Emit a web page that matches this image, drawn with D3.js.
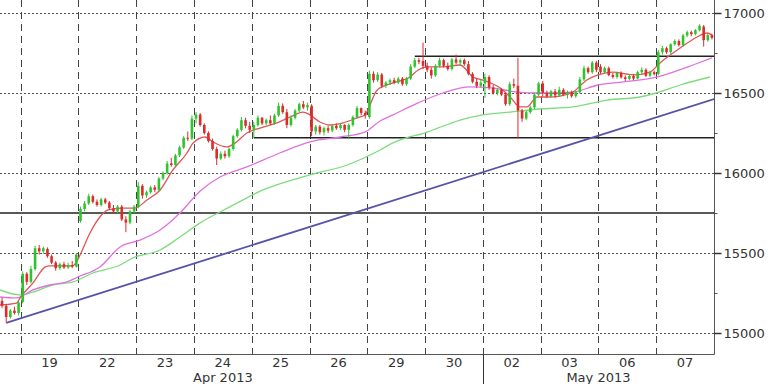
<!DOCTYPE html>
<html>
<head>
<meta charset="utf-8">
<script src="https://cdn.jsdelivr.net/npm/d3@7"></script>
<style>
  body { margin: 0; background: #fff; }
  svg { display: block; }
  text { font-family: "DejaVu Sans", Verdana, sans-serif; fill: #333; }
</style>
</head>
<body>
<svg id="chart"></svg>
<script>
// trading days shown on the x axis (first one only partly visible)
const days = ['18', '19', '22', '23', '24', '25', '26', '29', '30', '02', '03', '06', '07'];
const months = [
  { label: 'Apr 2013', firstDay: 0, lastDay: 8 },
  { label: 'May 2013', firstDay: 9, lastDay: 12 }
];
const priceTicks = [15000, 15500, 16000, 16500, 17000];
const minorTicks = [15250, 15750, 16250, 16750];

// hourly candles [open, high, low, close]
const candles = [
  // 18 (last 5 bars)
  [15200, 15220, 15155, 15170], [15170, 15180, 15065, 15100], [15100, 15150, 15090, 15140],
  [15140, 15165, 15115, 15125], [15125, 15200, 15110, 15190],
  // 19
  [15195, 15385, 15185, 15370], [15370, 15380, 15300, 15320], [15320, 15420, 15310, 15400],
  [15400, 15545, 15390, 15530], [15530, 15550, 15490, 15510], [15510, 15540, 15495, 15530],
  [15525, 15535, 15470, 15480], [15480, 15490, 15430, 15440], [15440, 15450, 15390, 15405],
  [15405, 15440, 15395, 15430], [15430, 15445, 15400, 15410], [15410, 15440, 15400, 15425],
  [15425, 15450, 15405, 15415], [15415, 15500, 15410, 15490],
  // 22
  [15700, 15790, 15690, 15775], [15775, 15825, 15760, 15810], [15810, 15870, 15800, 15855],
  [15855, 15865, 15810, 15820], [15820, 15835, 15790, 15800], [15800, 15845, 15790, 15835],
  [15835, 15845, 15805, 15815], [15815, 15825, 15770, 15780], [15780, 15800, 15750, 15760],
  [15760, 15800, 15745, 15790], [15790, 15800, 15700, 15710], [15710, 15730, 15630, 15690],
  [15690, 15770, 15680, 15760], [15760, 15800, 15750, 15790],
  // 23
  [15790, 15945, 15780, 15920], [15920, 15930, 15840, 15860], [15860, 15890, 15845, 15880],
  [15880, 15920, 15870, 15910], [15910, 15925, 15880, 15895], [15895, 15975, 15885, 15965],
  [15965, 16010, 15955, 16000], [16000, 16075, 15990, 16060], [16060, 16095, 16040, 16050],
  [16050, 16120, 16040, 16110], [16110, 16170, 16100, 16160], [16160, 16230, 16150, 16220],
  [16220, 16260, 16200, 16215], [16215, 16360, 16205, 16340],
  // 24
  [16340, 16380, 16310, 16365], [16365, 16375, 16290, 16300], [16300, 16310, 16240, 16250],
  [16250, 16260, 16190, 16200], [16200, 16215, 16140, 16150], [16150, 16165, 16050, 16090],
  [16090, 16135, 16080, 16120], [16120, 16140, 16090, 16105], [16105, 16160, 16095, 16150],
  [16150, 16240, 16140, 16230], [16230, 16280, 16220, 16270], [16270, 16350, 16260, 16330],
  [16330, 16345, 16280, 16295], [16295, 16320, 16250, 16270],
  // 25
  [16270, 16320, 16220, 16300], [16300, 16360, 16290, 16345], [16345, 16350, 16300, 16310],
  [16310, 16340, 16300, 16330], [16330, 16360, 16300, 16310], [16310, 16370, 16300, 16360],
  [16360, 16440, 16350, 16420], [16420, 16435, 16370, 16380], [16380, 16400, 16280, 16300],
  [16300, 16360, 16290, 16345], [16345, 16400, 16335, 16390], [16390, 16440, 16380, 16430],
  [16430, 16450, 16400, 16410], [16410, 16440, 16390, 16425],
  // 26
  [16420, 16430, 16230, 16260], [16260, 16300, 16240, 16290], [16290, 16300, 16240, 16255],
  [16255, 16290, 16235, 16280], [16280, 16295, 16250, 16265], [16265, 16305, 16255, 16295],
  [16295, 16310, 16270, 16280], [16280, 16310, 16270, 16300], [16300, 16305, 16255, 16270],
  [16270, 16310, 16220, 16300], [16300, 16360, 16290, 16350], [16350, 16420, 16340, 16405],
  [16405, 16410, 16360, 16375], [16375, 16390, 16340, 16360],
  // 29
  [16350, 16640, 16340, 16620], [16620, 16635, 16565, 16580], [16580, 16630, 16570, 16615],
  [16615, 16625, 16530, 16545], [16545, 16575, 16530, 16565], [16565, 16590, 16550, 16580],
  [16580, 16595, 16555, 16565], [16565, 16600, 16555, 16590], [16590, 16600, 16545, 16555],
  [16555, 16600, 16545, 16590], [16590, 16680, 16580, 16665], [16665, 16720, 16655, 16705],
  [16705, 16720, 16680, 16695], [16700, 16815, 16650, 16670],
  // 30
  [16670, 16690, 16630, 16645], [16645, 16660, 16590, 16610], [16610, 16680, 16600, 16670],
  [16670, 16720, 16660, 16705], [16705, 16715, 16660, 16670], [16670, 16690, 16640, 16650],
  [16650, 16720, 16640, 16710], [16710, 16740, 16680, 16690], [16690, 16715, 16670, 16705],
  [16705, 16715, 16670, 16680], [16680, 16700, 16610, 16620], [16620, 16630, 16560, 16570],
  [16570, 16590, 16530, 16545], [16545, 16585, 16535, 16565],
  // 02
  [16560, 16620, 16470, 16600], [16600, 16610, 16520, 16535], [16535, 16550, 16490, 16500],
  [16500, 16530, 16485, 16520], [16520, 16530, 16480, 16490], [16490, 16500, 16420, 16430],
  [16430, 16570, 16420, 16555], [16555, 16590, 16530, 16545], [16545, 16720, 16220, 16390],
  [16390, 16400, 16320, 16340], [16340, 16390, 16330, 16380], [16380, 16420, 16370, 16410],
  [16410, 16500, 16400, 16490], [16490, 16570, 16480, 16560],
  // 03
  [16560, 16575, 16480, 16500], [16500, 16515, 16470, 16480], [16480, 16520, 16470, 16510],
  [16510, 16525, 16470, 16485], [16485, 16540, 16475, 16520], [16520, 16530, 16480, 16490],
  [16490, 16515, 16465, 16505], [16505, 16515, 16470, 16480], [16480, 16515, 16470, 16505],
  [16505, 16600, 16495, 16585], [16585, 16670, 16575, 16655], [16655, 16665, 16620, 16630],
  [16630, 16700, 16620, 16690], [16690, 16700, 16630, 16645],
  // 06
  [16665, 16680, 16620, 16630], [16630, 16665, 16620, 16655], [16655, 16665, 16605, 16612],
  [16612, 16625, 16590, 16600], [16600, 16630, 16590, 16625], [16625, 16635, 16590, 16598],
  [16598, 16610, 16575, 16588], [16588, 16615, 16580, 16606], [16606, 16620, 16580, 16590],
  [16590, 16640, 16585, 16630], [16630, 16660, 16620, 16645], [16645, 16655, 16600, 16608],
  [16608, 16640, 16600, 16630], [16630, 16640, 16610, 16618],
  // 07
  [16620, 16770, 16610, 16755], [16755, 16795, 16740, 16780], [16780, 16790, 16745, 16755],
  [16755, 16810, 16745, 16805], [16805, 16835, 16795, 16825], [16825, 16835, 16790, 16800],
  [16800, 16870, 16790, 16860], [16860, 16890, 16850, 16880], [16880, 16890, 16855, 16868],
  [16868, 16900, 16860, 16892], [16892, 16930, 16885, 16920], [16915, 16925, 16790, 16830],
  [16830, 16870, 16820, 16862], [16862, 16870, 16835, 16845]
];

// moving averages: [bar index, value]
const maFast = [
  [0, 15175], [4, 15187], [5, 15225], [8, 15313], [11, 15413], [12, 15419], [17.5, 15419],
  [18.4, 15438], [19.4, 15488], [21.8, 15625], [24.2, 15725], [26.2, 15769], [29.8, 15781],
  [32.7, 15781], [35.6, 15831], [38.8, 15894], [41.9, 16019], [45.3, 16125], [46.8, 16188],
  [49.7, 16225], [51.6, 16194], [55, 16163], [57, 16188], [59.8, 16250], [63, 16281],
  [67.1, 16313], [70.3, 16350], [73.4, 16381], [75.1, 16363], [77.5, 16319], [80, 16300],
  [83.1, 16313], [86.5, 16344], [88.4, 16363], [91.4, 16519], [95.2, 16563], [99.3, 16600],
  [101.3, 16644], [103.5, 16663], [107.3, 16663], [111.5, 16675], [114.6, 16600], [117, 16581],
  [121.2, 16531], [123.6, 16475], [126, 16413], [127.7, 16413], [130.1, 16475], [132.5, 16475],
  [135.7, 16481], [138.8, 16506], [142.2, 16581], [144.9, 16613], [148.5, 16631], [153.4, 16613],
  [157.5, 16631], [159.9, 16688], [164.8, 16781], [168.9, 16850], [171.3, 16875], [172.5, 16863]
];
const maMid = [
  [0, 15225], [4, 15219], [8, 15269], [12, 15300], [16.2, 15319], [18.9, 15350], [24.2, 15413],
  [29.1, 15538], [33.9, 15581], [38.8, 15644], [43.6, 15750], [48.5, 15888], [53.3, 15975],
  [59.8, 16038], [67.8, 16125], [75.1, 16194], [82.4, 16225], [88.4, 16256], [92.1, 16325],
  [95.2, 16363], [101.3, 16438], [107.3, 16500], [113.9, 16538], [119.5, 16531], [125.3, 16506],
  [130.8, 16500], [138.8, 16506], [144.9, 16550], [151, 16569], [158.2, 16594], [163.1, 16631],
  [167.9, 16675], [172.5, 16719]
];
const maSlow = [
  [0, 15269], [4.8, 15238], [8, 15256], [12.8, 15300], [17.7, 15319], [22.5, 15375],
  [29.1, 15425], [32.2, 15469], [38.8, 15519], [43.6, 15600], [48.5, 15688], [55.7, 15788],
  [63.7, 15894], [75.1, 15988], [84.1, 16050], [92.1, 16144], [95.2, 16188], [103.5, 16256],
  [111.5, 16331], [117, 16363], [123.6, 16381], [130.8, 16400], [138.8, 16413], [147.1, 16456],
  [155.1, 16475], [159, 16500], [164.8, 16550], [172, 16600]
];

// drawn study lines: [bar index, value]
const trendLine = [[1.5, 15063], [173, 16462]];
const levels = [[0, 15750], [61.5, 16220], [100.5, 16730]];

const W = 768, H = 384;
const plotW = 714, plotH = 354;
const perDay = 14;
const firstSlot = 9; // first visible bar sits in slot 9 of the first day

const svg = d3.select('#chart').attr('width', W).attr('height', H);

const x = d3.scaleLinear()
  .domain([firstSlot, firstSlot + candles.length])
  .range([0, plotW]);
const y = d3.scaleLinear()
  .domain([15000, 17000])
  .range([333, 13]);
const bx = i => x(firstSlot + i + 0.5);
const ix = i => x(firstSlot + i);

svg.append('defs').append('clipPath').attr('id', 'plotclip')
  .append('rect').attr('width', plotW).attr('height', plotH);

const plot = svg.append('g').attr('clip-path', 'url(#plotclip)');

// horizontal dotted grid
plot.selectAll('line.hgrid')
  .data(priceTicks)
  .join('line')
  .attr('class', 'hgrid')
  .attr('x1', 0).attr('x2', plotW)
  .attr('y1', d => Math.round(y(d)) + 0.5).attr('y2', d => Math.round(y(d)) + 0.5)
  .style('stroke', '#555')
  .style('stroke-width', 1)
  .style('stroke-dasharray', '2,2');

// day separators
plot.selectAll('line.vgrid')
  .data(d3.range(1, days.length))
  .join('line')
  .attr('class', 'vgrid')
  .attr('x1', d => Math.round(x(d * perDay)) + 0.5).attr('x2', d => Math.round(x(d * perDay)) + 0.5)
  .attr('y1', 0).attr('y2', plotH)
  .style('stroke', '#444')
  .style('stroke-width', 1)
  .style('stroke-dasharray', '7,5');

// support / resistance levels
plot.selectAll('line.level')
  .data(levels)
  .join('line')
  .attr('class', 'level')
  .attr('x1', d => ix(d[0])).attr('x2', plotW)
  .attr('y1', d => y(d[1])).attr('y2', d => y(d[1]))
  .style('stroke', '#222')
  .style('stroke-width', 1.6);

// trend line
plot.append('line')
  .attr('x1', bx(trendLine[0][0] - 0.5)).attr('y1', y(trendLine[0][1]))
  .attr('x2', ix(trendLine[1][0])).attr('y2', y(trendLine[1][1]))
  .style('stroke', '#5555a8')
  .style('stroke-width', 1.8);

// moving averages
const maLine = d3.line()
  .x(d => ix(d[0]))
  .y(d => y(d[1]))
  .curve(d3.curveMonotoneX);

[[maSlow, '#7ddc7d'], [maMid, '#e070e0'], [maFast, '#e05555']].forEach(function(m){
  plot.append('path')
    .datum(m[0])
    .attr('d', maLine)
    .style('fill', 'none')
    .style('stroke', m[1])
    .style('stroke-width', 1.3);
});

// candles
const bodyW = 2.6;
const candle = plot.selectAll('g.candle')
  .data(candles)
  .join('g')
  .attr('class', 'candle');

candle.append('line')
  .attr('x1', (d, i) => bx(i)).attr('x2', (d, i) => bx(i))
  .attr('y1', d => y(d[1])).attr('y2', d => y(d[2]))
  .style('stroke', d => d[3] >= d[0] ? '#2fc42f' : '#dd2a2a')
  .style('stroke-width', 1);

candle.append('rect')
  .attr('x', (d, i) => bx(i) - bodyW / 2)
  .attr('width', bodyW)
  .attr('y', d => y(Math.max(d[0], d[3])))
  .attr('height', d => Math.max(1, Math.abs(y(d[0]) - y(d[3]))))
  .style('fill', d => d[3] >= d[0] ? '#2fc42f' : '#dd2a2a');

// frame (right and bottom)
svg.append('path')
  .attr('d', 'M0,' + (plotH + 0.5) + 'H' + (plotW + 0.5) + 'V0')
  .style('fill', 'none')
  .style('stroke', '#555')
  .style('stroke-width', 1);

// right price axis
const axis = svg.append('g').attr('transform', 'translate(' + (plotW + 0.5) + ',0)');
axis.selectAll('line.major')
  .data(priceTicks)
  .join('line')
  .attr('x1', 0).attr('x2', 7)
  .attr('y1', d => Math.round(y(d)) + 0.5).attr('y2', d => Math.round(y(d)) + 0.5)
  .style('stroke', '#333')
  .style('stroke-width', 1.5);
axis.selectAll('line.minor')
  .data(minorTicks)
  .join('line')
  .attr('x1', 0).attr('x2', 3)
  .attr('y1', d => Math.round(y(d)) + 0.5).attr('y2', d => Math.round(y(d)) + 0.5)
  .style('stroke', '#555');
axis.selectAll('text')
  .data(priceTicks)
  .join('text')
  .attr('x', 9)
  .attr('y', d => y(d))
  .attr('dy', '0.36em')
  .style('font-size', '13px')
  .text(d => d);

// day labels
svg.selectAll('text.day')
  .data(days)
  .join('text')
  .attr('class', 'day')
  .attr('x', (d, i) => x(i * perDay + perDay / 2))
  .attr('y', 367)
  .attr('text-anchor', 'middle')
  .style('font-size', '13px')
  .text(d => d);

// month labels and separator
svg.selectAll('text.month')
  .data(months)
  .join('text')
  .attr('class', 'month')
  .attr('x', d => (x(d.firstDay * perDay + perDay / 2) + x(d.lastDay * perDay + perDay / 2)) / 2)
  .attr('y', 382)
  .attr('text-anchor', 'middle')
  .style('font-size', '13px')
  .text(d => d.label);

svg.append('line')
  .attr('x1', Math.round(x(months[1].firstDay * perDay)) + 0.5)
  .attr('x2', Math.round(x(months[1].firstDay * perDay)) + 0.5)
  .attr('y1', plotH).attr('y2', H)
  .style('stroke', '#333')
  .style('stroke-width', 1);
</script>
</body>
</html>
